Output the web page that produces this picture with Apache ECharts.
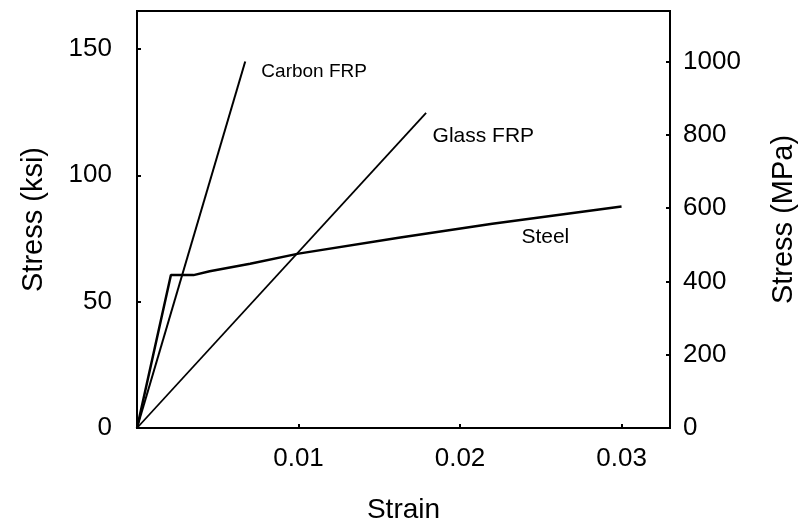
<!DOCTYPE html>
<html>
<head>
<meta charset="utf-8">
<script src="https://cdn.jsdelivr.net/npm/echarts@6/dist/echarts.min.js"></script>
<style>
html,body{margin:0;padding:0;background:#fff;}
#main{width:804px;height:528px;}
</style>
</head>
<body>
<div id="main"></div>
<script>
// 数据 (strain, ksi)
var carbonFRP = [[0, 0], [0.0067, 145]];
var glassFRP = [[0, 0], [0.0179, 124.7]];
var steel = [[0, 0], [0.0021, 60.5], [0.0035, 60.5], [0.0045, 62], [0.007, 65], [0.01, 69], [0.0163, 75.4], [0.022, 80.8], [0.03, 87.6]];
// 标注
var labelNames = ['Carbon FRP', 'Glass FRP', 'Steel'];
var labelAt = [[0.0077, 140.8], [0.0183, 115.5], [0.0238, 75.5]];
var labelSizes = [19, 21, 21];
// 坐标轴
var ksiMax = 165;
var ksiToMPa = 6.895;
var xTicks = [0.01, 0.02, 0.03];

var font = 'Liberation Sans, Arial, Helvetica, sans-serif';
var myChart = echarts.init(document.getElementById('main'));

var marks = [];
for (var i = 0; i < labelNames.length; i++) {
    marks.push({coord: labelAt[i], value: labelNames[i], label: {fontSize: labelSizes[i]}});
}

function line(name, data, w) {
    return {
        name: name,
        type: 'line',
        data: data,
        symbol: 'none',
        smooth: false,
        lineStyle: {color: '#000', width: w},
        animation: false
    };
}

var series = [
    line('Carbon FRP', carbonFRP, 2),
    line('Glass FRP', glassFRP, 1.8),
    line('Steel', steel, 2.5)
];
series[0].markPoint = {
    symbol: 'circle',
    symbolSize: 0,
    silent: true,
    label: {
        show: true,
        position: 'right',
        distance: 0,
        color: '#000',
        fontFamily: font,
        fontSize: 19,
        formatter: function (p) { return p.value; }
    },
    data: marks
};

var tickStyle = {show: true, inside: true, length: 4, lineStyle: {color: '#000', width: 2}};
var lineStyle = {show: true, lineStyle: {color: '#000', width: 2}};

var option = {
    backgroundColor: '#fff',
    animation: false,
    grid: {
        left: 137,
        top: 11,
        right: 134,
        bottom: 100,
        outerBoundsMode: 'none',
        show: true,
        borderColor: '#000',
        borderWidth: 2,
        backgroundColor: 'transparent'
    },
    xAxis: {
        type: 'value',
        min: 0,
        max: 0.033,
        interval: 0.01,
        name: 'Strain',
        nameLocation: 'middle',
        nameGap: 68,
        nameTextStyle: {fontFamily: font, fontSize: 28, color: '#000'},
        axisLine: lineStyle,
        axisTick: tickStyle,
        splitLine: {show: false},
        axisLabel: {
            fontFamily: font, fontSize: 26, color: '#000', margin: 18,
            showMinLabel: false,
            formatter: function (v) {
                for (var i = 0; i < xTicks.length; i++) {
                    if (Math.abs(v - xTicks[i]) < 1e-9) return String(xTicks[i]);
                }
                return '';
            }
        }
    },
    yAxis: [{
        type: 'value',
        position: 'left',
        min: 0,
        max: ksiMax,
        interval: 50,
        name: 'Stress (ksi)',
        nameLocation: 'middle',
        nameGap: 89,
        nameTextStyle: {fontFamily: font, fontSize: 29, color: '#000'},
        axisLine: lineStyle,
        axisTick: tickStyle,
        splitLine: {show: false},
        axisLabel: {fontFamily: font, fontSize: 26, color: '#000', margin: 25, showMaxLabel: false}
    }, {
        type: 'value',
        position: 'right',
        min: 0,
        max: ksiMax * ksiToMPa,
        interval: 200,
        name: 'Stress (MPa)',
        nameLocation: 'middle',
        nameGap: 99,
        nameRotate: 90,
        nameTextStyle: {fontFamily: font, fontSize: 29, color: '#000'},
        axisLine: lineStyle,
        axisTick: tickStyle,
        splitLine: {show: false},
        axisLabel: {
            fontFamily: font, fontSize: 26, color: '#000', margin: 13,
            formatter: function (v) { return v > 1000 ? '' : String(v); }
        }
    }],
    series: series
};
myChart.setOption(option);
</script>
</body>
</html>
